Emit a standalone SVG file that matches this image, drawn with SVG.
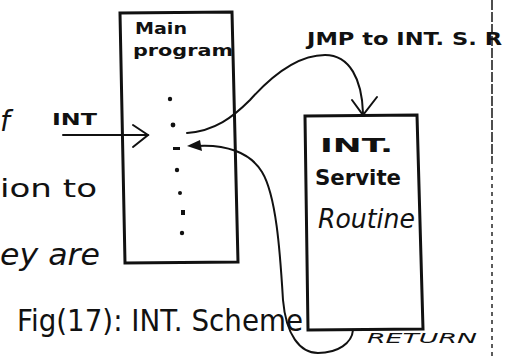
<svg xmlns="http://www.w3.org/2000/svg" width="516" height="356" viewBox="0 0 516 356">
  <style>
    .box { fill: none; stroke: #111; stroke-width: 3; stroke-linecap: round; }
    .wire { fill: none; stroke: #111; stroke-width: 2; stroke-linecap: round; }
    .hand { font-family: "DejaVu Sans", "Liberation Sans", sans-serif; fill: #111; }
    .dot { fill: #111; }
  </style>
  <rect width="516" height="356" fill="#ffffff"/>

  <!-- page margin rule on the right -->
  <g id="margin-rule">
    <line x1="492" y1="0" x2="492" y2="160" stroke="#222" stroke-width="1.6" stroke-dasharray="10 2"/>
    <line x1="492" y1="160" x2="492" y2="356" stroke="#333" stroke-width="1.6" stroke-dasharray="4 4"/>
  </g>

  <!-- running text at the left edge -->
  <g id="side-text" class="hand">
    <text x="0" y="131" font-size="28" font-style="italic">f</text>
    <text x="0" y="197" font-size="25" textLength="97" lengthAdjust="spacingAndGlyphs">ion to</text>
    <text x="0" y="265" font-size="30" font-style="italic" textLength="100" lengthAdjust="spacingAndGlyphs">ey are</text>
  </g>

  <!-- main program block -->
  <g id="main-program">
    <path class="box" d="M120,13 L232,12 L238,262 L125,263 Z"/>
    <text class="hand" x="135" y="34" font-size="16" font-weight="bold" textLength="52" lengthAdjust="spacingAndGlyphs">Main</text>
    <text class="hand" x="133" y="56" font-size="16" font-weight="bold" textLength="100" lengthAdjust="spacingAndGlyphs">program</text>
    <!-- instruction stream -->
    <circle class="dot" cx="170" cy="99" r="2.2"/>
    <circle class="dot" cx="173" cy="125" r="2.4"/>
    <rect class="dot" x="173" y="147" width="7" height="3"/>
    <circle class="dot" cx="177" cy="170" r="2.2"/>
    <circle class="dot" cx="180" cy="193" r="2"/>
    <rect class="dot" x="181" y="210" width="4" height="5"/>
    <circle class="dot" cx="182" cy="233" r="2.2"/>
  </g>

  <!-- interrupt service routine block -->
  <g id="int-service-routine">
    <path class="box" d="M305,116 L417,115 L423,329 L308,330 Z"/>
    <text class="hand" x="320" y="152" font-size="19" font-weight="bold" textLength="73" lengthAdjust="spacingAndGlyphs">INT.</text>
    <text class="hand" x="315" y="185" font-size="22" font-weight="bold" textLength="86" lengthAdjust="spacingAndGlyphs">Servite</text>
    <text class="hand" x="318" y="228" font-size="26" font-style="italic" textLength="97" lengthAdjust="spacingAndGlyphs">Routine</text>
  </g>

  <!-- connectors -->
  <g id="connectors">
    <!-- external interrupt request -->
    <line class="wire" x1="63" y1="135" x2="148" y2="135"/>
    <polyline class="wire" points="133,125 148,135 133,147"/>
    <text class="hand" x="52" y="125" font-size="15" font-weight="bold" textLength="45" lengthAdjust="spacingAndGlyphs">INT</text>

    <!-- jump to the service routine -->
    <path class="wire" d="M187,133 C215,131 233,117 250,100 C275,72 300,55 325,55 C350,55 362,80 363,113"/>
    <polyline class="wire" stroke-width="2.5" points="352,100 363,115 377,97"/>
    <text class="hand" x="307" y="45" font-size="17" font-weight="bold" textLength="195" lengthAdjust="spacingAndGlyphs">JMP to INT. S. R</text>

    <!-- return to the interrupted program -->
    <path class="wire" d="M196,146 C225,144 250,152 262,172 C276,195 280,250 283,300 C286,335 300,353 318,353 C338,353 352,343 353,330"/>
    <polygon class="dot" points="187,146 200,140 202,151"/>
    <text class="hand" x="367" y="343" font-size="14" font-style="italic" textLength="110" lengthAdjust="spacingAndGlyphs">RETURN</text>
  </g>

  <!-- figure caption -->
  <g id="caption">
    <text class="hand" x="17" y="331" font-size="30" textLength="286" lengthAdjust="spacingAndGlyphs">Fig(17): INT. Scheme</text>
  </g>
</svg>
